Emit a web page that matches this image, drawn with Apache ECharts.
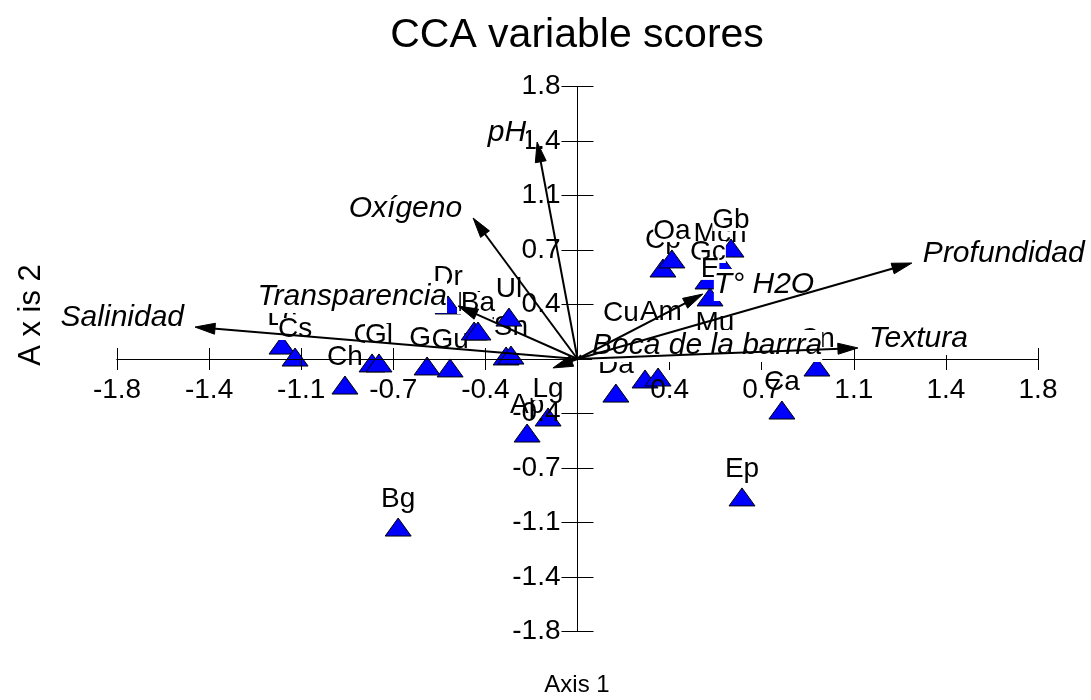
<!DOCTYPE html>
<html>
<head>
<meta charset="utf-8">
<script src="https://cdn.jsdelivr.net/npm/echarts@6/dist/echarts.min.js"></script>
<style>
  html, body { margin: 0; padding: 0; background: #ffffff; }
  #chart { width: 1091px; height: 700px; }
</style>
</head>
<body>
<div id="chart"></div>
<script>
// Species scores on the first two CCA axes (drawn in this order)
const speciesNames = ['Lc', 'Cs', 'Ch', 'Gd', 'Gl', 'Gs', 'Gu', 'Dr', 'Bb', 'Ba', 'Ts', 'Sn', 'Ul',
  'Ap', 'Lg', 'Bg', 'Da', '', '', 'Cu', 'Am', 'Nt', 'Mu', 'Cp', 'Oa', 'Mch', 'Gb', 'Gc', 'E',
  'Cn', 'Ca', 'Ep'];
const speciesAxis1 = [-1.155, -1.104, -0.909, -0.803, -0.776, -0.588, -0.498, -0.506, -0.404, -0.389,
  -0.279, -0.260, -0.268, -0.197, -0.115, -0.701, 0.150, 0.264, 0.315, 0.170, 0.326, 0.557, 0.537,
  0.334, 0.369, 0.557, 0.600, 0.510, 0.518, 0.936, 0.799, 0.643];
const speciesAxis2 = [0.092, 0.013, -0.172, -0.026, -0.026, -0.046, -0.059, 0.357, 0.185, 0.185,
  0.020, 0.026, 0.277, -0.489, -0.383, -1.110, -0.225, -0.132, -0.119, 0.119, 0.125, 0.053, 0.053,
  0.601, 0.661, 0.641, 0.733, 0.522, 0.410, -0.053, -0.337, -0.911];

// Environmental variables (biplot vectors)
const vectorNames = ['Salinidad', 'Transparencia', 'Oxígeno', 'pH', 'T° H2O', 'Profundidad',
  'Textura', 'Boca de la barrra', ''];
const vectorAxis1 = [-1.495, -0.467, -0.408, -0.158, 0.490, 1.307, 1.096, 0.014, -0.096];
const vectorAxis2 = [0.211, 0.350, 0.931, 1.433, 0.429, 0.634, 0.073, 0.026, -0.059];

// Axis ticks and their printed labels
const tickValues = [-1.8, -1.44, -1.08, -0.72, -0.36, 0, 0.36, 0.72, 1.08, 1.44, 1.8];
const tickLabels = ['-1.8', '-1.4', '-1.1', '-0.7', '-0.4', '', '0.4', '0.7', '1.1', '1.4', '1.8'];

const FONT = '"Liberation Sans", Arial, sans-serif';

// Each axis is drawn twice (outside + inside ticks) so the ticks cross the line
function makeAxis(isX, inside) {
  return {
    type: 'value',
    min: -1.8,
    max: 1.8,
    interval: 0.36,
    position: isX ? 'bottom' : 'left',
    z: 2,
    axisLine: { show: true, onZero: true, lineStyle: { color: '#000', width: 1 } },
    axisTick: { show: true, inside: inside, length: isX ? 11 : 16, lineStyle: { color: '#000', width: 1 } },
    axisLabel: { show: false },
    splitLine: { show: false }
  };
}

// Tick labels written next to the axes that cross at the origin
function tickLabelSeries(isX) {
  const idx = tickValues.map((v, i) => i).filter(i => tickLabels[i] !== '');
  return {
    type: 'custom',
    coordinateSystem: 'cartesian2d',
    xAxisIndex: 0,
    yAxisIndex: 0,
    z: 2,
    silent: true,
    data: idx.map(i => [tickValues[i], i]),
    renderItem(params, api) {
      const v = api.value(0);
      const label = tickLabels[api.value(1)];
      const p = isX ? api.coord([v, 0]) : api.coord([0, v]);
      return {
        type: 'text',
        x: isX ? p[0] : p[0] - 17,
        y: isX ? p[1] + 31 : p[1],
        style: {
          text: label, fontSize: 28, fontFamily: FONT, fill: '#000',
          align: isX ? 'center' : 'right', verticalAlign: 'middle'
        }
      };
    }
  };
}

const chart = echarts.init(document.getElementById('chart'), null, { renderer: 'canvas' });

const option = {
  animation: false,
  backgroundColor: '#ffffff',
  grid: { left: 117, right: 53, top: 86.5, bottom: 68.5, outerBoundsMode: 'none' },
  xAxis: [makeAxis(true, false), makeAxis(true, true)],
  yAxis: [makeAxis(false, false), makeAxis(false, true)],
  graphic: [
    { type: 'text', x: 577, y: 36, style: { text: 'CCA variable scores', fontSize: 41, fontFamily: FONT, fill: '#000', align: 'center', verticalAlign: 'middle' } },
    { type: 'text', x: 577, y: 685, style: { text: 'Axis 1', fontSize: 24, fontFamily: FONT, fill: '#000', align: 'center', verticalAlign: 'middle' } },
    { type: 'text', x: 31, y: 315, rotation: Math.PI / 2, style: { text: 'A x is 2', fontSize: 31, fontFamily: FONT, fill: '#000', align: 'center', verticalAlign: 'middle' } }
  ],
  series: [
    tickLabelSeries(true),
    tickLabelSeries(false),
    {
      // species: blue triangles with their codes above, each drawn over the previous ones
      type: 'custom',
      coordinateSystem: 'cartesian2d',
      xAxisIndex: 0,
      yAxisIndex: 0,
      z: 1,
      silent: true,
      data: speciesAxis1.map((v, i) => [v, speciesAxis2[i]]),
      renderItem(params, api) {
        const p = api.coord([api.value(0), api.value(1)]);
        const k = params.dataIndex;
        const name = speciesNames[k];
        const children = [{
          type: 'polygon',
          z2: 2 * k,
          shape: { points: [[p[0], p[1] - 9], [p[0] + 13, p[1] + 9], [p[0] - 13, p[1] + 9]] },
          style: { fill: '#0000ff', stroke: '#000', lineWidth: 1 }
        }];
        if (name) {
          children.push({
            type: 'text',
            z2: 2 * k + 1,
            x: p[0],
            y: p[1] - 28,
            style: {
              text: name, fontSize: 28, fontFamily: FONT, fill: '#000',
              align: 'center', verticalAlign: 'middle',
              lineHeight: 22, backgroundColor: '#fff'
            }
          });
        }
        return { type: 'group', children };
      }
    },
    {
      // environmental vectors: arrows from the origin with italic names
      type: 'custom',
      coordinateSystem: 'cartesian2d',
      xAxisIndex: 0,
      yAxisIndex: 0,
      z: 3,
      silent: true,
      data: vectorAxis1.map((v, i) => [v, vectorAxis2[i]]),
      renderItem(params, api) {
        const o = api.coord([0, 0]);
        const t = api.coord([api.value(0), api.value(1)]);
        const name = vectorNames[params.dataIndex];
        const dx = t[0] - o[0];
        const dy = t[1] - o[1];
        const len = Math.hypot(dx, dy);
        const children = [];
        const headLen = 20, headHalf = 5.5;
        if (len > 20) {
          const ux = dx / len, uy = dy / len;
          const bx = t[0] - ux * headLen, by = t[1] - uy * headLen;
          children.push({
            type: 'line', z2: 2,
            shape: { x1: o[0], y1: o[1], x2: bx + ux * 2, y2: by + uy * 2 },
            style: { stroke: '#000', lineWidth: 2 }
          });
          children.push({
            type: 'polygon', z2: 2,
            shape: { points: [[t[0], t[1]], [bx - uy * headHalf, by + ux * headHalf], [bx + uy * headHalf, by - ux * headHalf]] },
            style: { fill: '#000', stroke: '#000', lineWidth: 1 }
          });
        } else {
          children.push({
            type: 'line', z2: 2,
            shape: { x1: o[0], y1: o[1], x2: t[0], y2: t[1] },
            style: { stroke: '#000', lineWidth: 2 }
          });
        }
        if (name) {
          const right = dx >= 0;
          children.push({
            type: 'text', z2: 0,
            x: t[0] + (right ? 11 : -11),
            y: t[1] - 9,
            style: {
              text: name, fontSize: 30, fontFamily: FONT, fontStyle: 'italic', fill: '#000',
              align: right ? 'left' : 'right', verticalAlign: 'middle',
              lineHeight: 24, padding: [3, 0, 5, 0], backgroundColor: '#fff'
            }
          });
        }
        return { type: 'group', children };
      }
    }
  ]
};

chart.setOption(option);
</script>
</body>
</html>
